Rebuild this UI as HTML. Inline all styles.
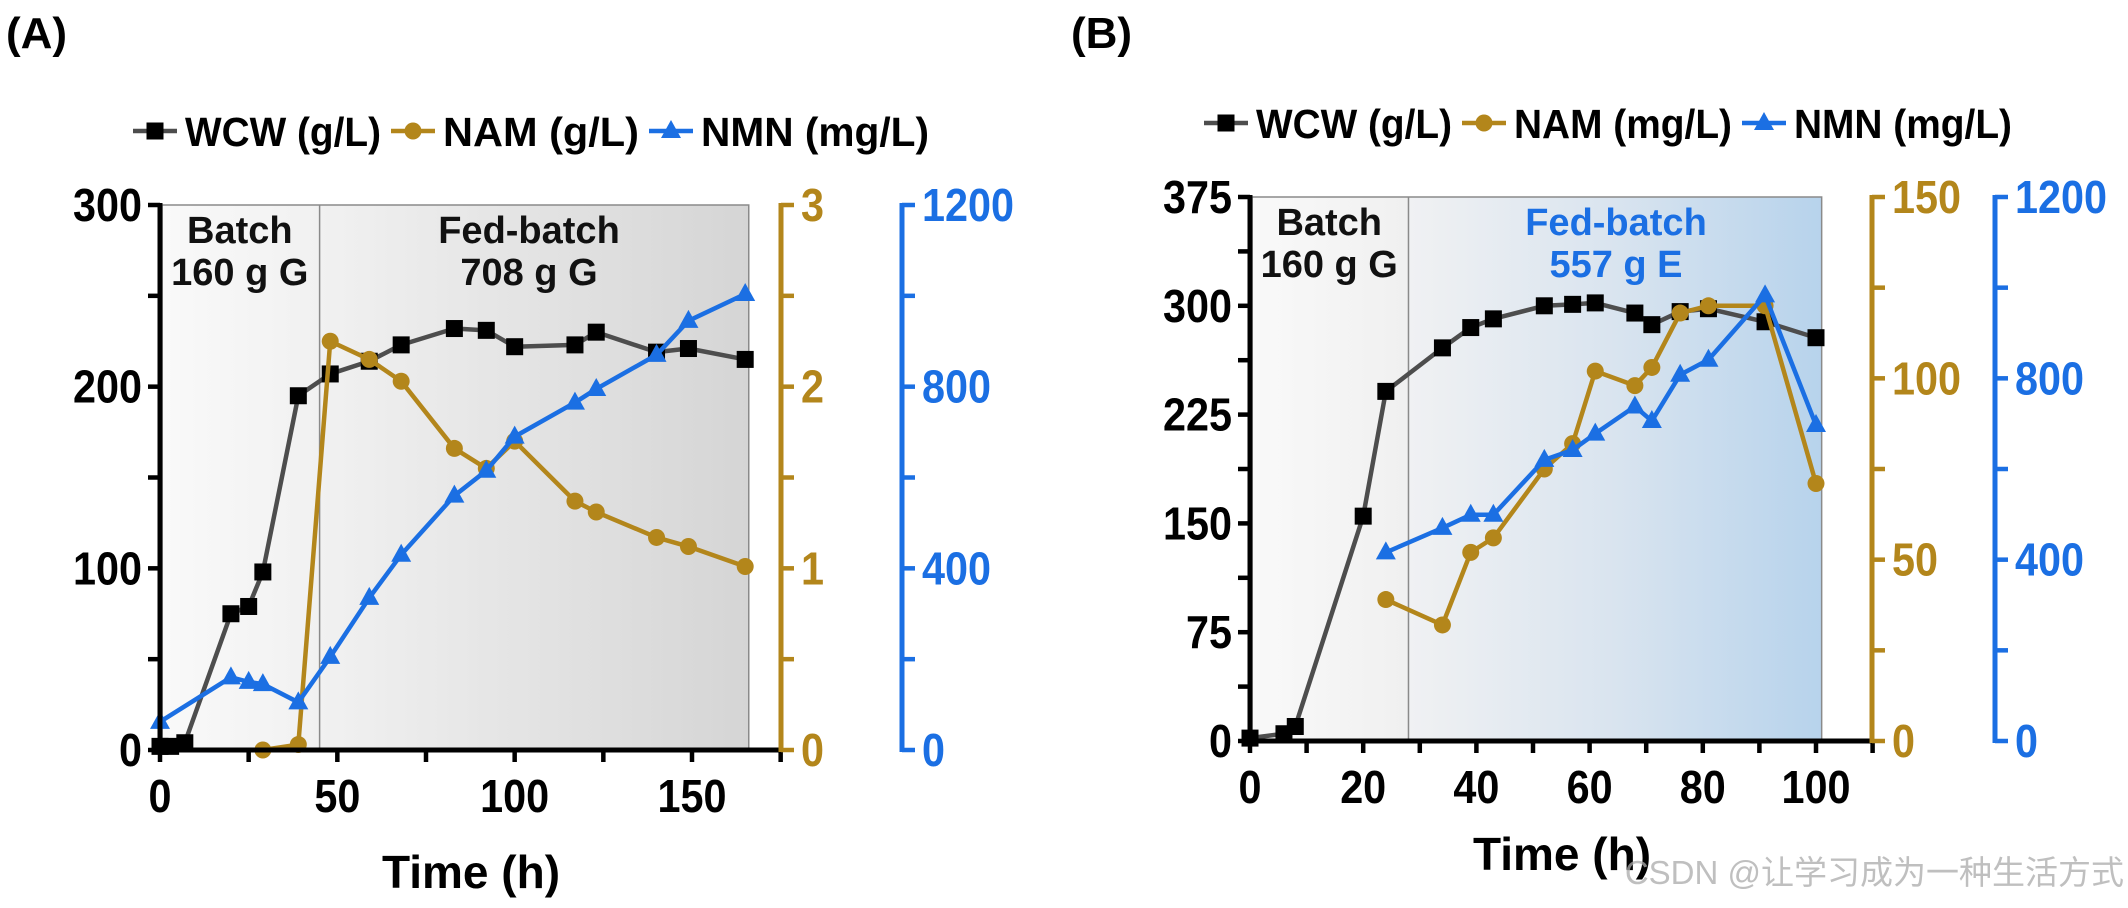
<!DOCTYPE html>
<html><head><meta charset="utf-8"><style>
html,body{margin:0;padding:0;background:#fff;}
svg{display:block;font-family:"Liberation Sans",Arial,sans-serif;font-weight:bold;}
</style></head><body>
<svg id="chart" width="2128" height="908" viewBox="0 0 2128 908" xmlns="http://www.w3.org/2000/svg">
<defs>
<linearGradient id="gA1" x1="0" x2="1"><stop offset="0" stop-color="#f9f9f9"/><stop offset="1" stop-color="#f1f1f1"/></linearGradient>
<linearGradient id="gA2" x1="0" x2="1"><stop offset="0" stop-color="#f1f1f1"/><stop offset="1" stop-color="#d5d5d5"/></linearGradient>
<linearGradient id="gB1" x1="0" x2="1"><stop offset="0" stop-color="#f9f9f9"/><stop offset="1" stop-color="#f0f0f0"/></linearGradient>
<linearGradient id="gB2" x1="0" x2="1"><stop offset="0" stop-color="#f0f1f3"/><stop offset="0.5" stop-color="#d9e4ef"/><stop offset="1" stop-color="#b7d3ec"/></linearGradient>
</defs>
<g id="root"></g>
</svg>
<script>
// Panel A data
const aWcwT = [0,3,7,20,25,29,39,48,59,68,83,92,100,117,123,140,149,165];
const aWcwV = [2,2,4,75,79,98,195,207,214,223,232,231,222,223,230,219,221,215];
const aNamT = [29,39,48,59,68,83,92,100,117,123,140,149,165];
const aNamV = [0,0.03,2.25,2.15,2.03,1.66,1.55,1.7,1.37,1.31,1.17,1.12,1.01];
const aNmnT = [0,20,25,29,39,48,59,68,83,92,100,117,123,140,149,165];
const aNmnV = [62,160,150,145,105,205,335,430,560,615,690,765,795,870,945,1004];
const aXTicks = ["0","50","100","150"];
const aYTicks = ["0","100","200","300"];
const aY2Ticks = ["0","1","2","3"];
const aY3Ticks = ["0","400","800","1200"];
// Panel B data
const bWcwT = [0,6,8,20,24,34,39,43,52,57,61,68,71,76,81,91,100];
const bWcwV = [2,5,10,155,241,271,285,291,300,301,302,295,287,296,298,289,278];
const bNamT = [24,34,39,43,52,57,61,68,71,76,81,91,100];
const bNamV = [39,32,52,56,75,82,102,98,103,118,120,120,71];
const bNmnT = [24,34,39,43,52,57,61,68,71,76,81,91,100];
const bNmnV = [416,470,499,499,620,642,678,738,706,808,841,983,697];
const bXTicks = ["0","20","40","60","80","100"];
const bYTicks = ["0","75","150","225","300","375"];
const bY2Ticks = ["0","50","100","150"];
const bY3Ticks = ["0","400","800","1200"];

const NS="http://www.w3.org/2000/svg";
const root=document.getElementById('root');
const GRAY="#4d4d4d", GOLD="#b3861b", BLUE="#1b6fe3";
function mk(tag,attrs,parent){const e=document.createElementNS(NS,tag);for(const k in attrs)e.setAttribute(k,attrs[k]);(parent||root).appendChild(e);return e;}
function txt(s,attrs,parent){const e=mk('text',attrs,parent);e.textContent=s;return e;}
function tick(s,attrs,parent){const a=Object.assign({'font-size':46},attrs);a.textLength=s.length*23;a.lengthAdjust='spacingAndGlyphs';return txt(s,a,parent);}

function marker(g,kind,x,y,color){
  let m;
  if(kind==='sq'){m=mk('rect',{x:x-8.5,y:y-8.5,width:17,height:17,fill:'#000'},g);}
  else if(kind==='ci'){m=mk('circle',{cx:x,cy:y,r:8.5,fill:color},g);}
  else {m=mk('polygon',{points:`${x},${y-11} ${x-10},${y+7} ${x+10},${y+7}`,fill:color},g);}
  
  
}
function series(g,name,ts,vs,xs,ys,color,kind){
  const sg=mk('g',{},g);
  
  
  const pts=ts.map((t,i)=>xs(t)+','+ys(vs[i])).join(' ');
  mk('polyline',{points:pts,fill:'none',stroke:color,'stroke-width':4.5,'stroke-linejoin':'round'},sg);
  ts.forEach((t,i)=>marker(sg,kind,xs(t),ys(vs[i]),color));
}

function panel(P){
  const g=mk('g',{});
  
  
  const xs=t=>P.x0+(t-P.xmin)/(P.xmax-P.xmin)*(P.x1-P.x0);
  const ys=v=>P.y0-(v/P.ymax)*(P.y0-P.y1);
  const y2=v=>P.y0-(v/P.y2max)*(P.y0-P.y1);
  const y3=v=>P.y0-(v/P.y3max)*(P.y0-P.y1);
  const bx=xs(P.batchEnd), ex=xs(P.shadeEnd);
  let r=mk('rect',{x:P.x0+2,y:P.y1,width:bx-P.x0-2,height:P.y0-P.y1,fill:P.g1},g);
  
  r=mk('rect',{x:bx,y:P.y1,width:ex-bx,height:P.y0-P.y1,fill:P.g2},g);
  
  mk('rect',{x:P.x0+2,y:P.y1,width:ex-P.x0-2,height:P.y0-P.y1,fill:'none',stroke:'#8a8a8a','stroke-width':1.5},g);
  mk('line',{x1:bx,y1:P.y1,x2:bx,y2:P.y0,stroke:'#8a8a8a','stroke-width':1.5},g);
  let t=txt('Batch',{x:(P.x0+bx)/2,y:P.y1+38,'font-size':38,'text-anchor':'middle',fill:'#111'},g);
  
  txt('160 g G',{x:(P.x0+bx)/2,y:P.y1+80,'font-size':38,'text-anchor':'middle',fill:'#111'},g);
  t=txt('Fed-batch',{x:P.fedX,y:P.y1+38,'font-size':38,'text-anchor':'middle',fill:P.fedColor},g);
  
  txt(P.fedText,{x:P.fedX,y:P.y1+80,'font-size':38,'text-anchor':'middle',fill:P.fedColor},g);
  series(g,'wcw-series',P.wT,P.wV,xs,ys,GRAY,'sq');
  series(g,'nam-series',P.nT,P.nV,xs,y2,GOLD,'ci');
  series(g,'nmn-series',P.mT,P.mV,xs,y3,BLUE,'tr');
  const ax=mk('g',{},g);
  mk('line',{x1:P.x0,y1:P.y1-2,x2:P.x0,y2:P.y0+2,stroke:'#000','stroke-width':5},ax);
  const nL=P.yT.length-1;
  for(let i=0;i<=nL*2;i++){const v=P.ymax*i/(nL*2);mk('line',{x1:P.x0-12,y1:ys(v),x2:P.x0,y2:ys(v),stroke:'#000','stroke-width':4.5},ax);}
  P.yT.forEach((s,i)=>{tick(s,{x:P.x0-18,y:ys(P.ymax*i/nL)+16,'text-anchor':'end',fill:'#000'},ax);});
  const xa=mk('g',{},g);
  mk('line',{x1:P.x0-2,y1:P.y0,x2:P.xAxisEnd,y2:P.y0,stroke:'#000','stroke-width':5},xa);
  for(let v=P.xmin;xs(v)<=P.xAxisEnd+1;v+=P.xMinor){mk('line',{x1:xs(v),y1:P.y0,x2:xs(v),y2:P.y0+12,stroke:'#000','stroke-width':4.5},xa);}
  P.xT.forEach(s=>{tick(s,{x:xs(+s),y:P.y0+62,'text-anchor':'middle',fill:'#000'},xa);});
  t=txt('Time (h)',{x:P.titleX,y:P.titleY,'font-size':46,'text-anchor':'middle',fill:'#000'},xa);
  
  const a2=mk('g',{},g);
  mk('line',{x1:P.g2x,y1:P.y1-2,x2:P.g2x,y2:P.y0+2,stroke:GOLD,'stroke-width':5},a2);
  const n2=P.y2T.length-1;
  for(let i=0;i<=n2*2;i++){const v=P.y2max*i/(n2*2);mk('line',{x1:P.g2x,y1:y2(v),x2:P.g2x+13,y2:y2(v),stroke:GOLD,'stroke-width':4.5},a2);}
  P.y2T.forEach((s,i)=>{tick(s,{x:P.g2x+20,y:y2(P.y2max*i/n2)+16,fill:GOLD},a2);});
  const a3=mk('g',{},g);
  mk('line',{x1:P.g3x,y1:P.y1-2,x2:P.g3x,y2:P.y0+2,stroke:BLUE,'stroke-width':5},a3);
  const n3=P.y3T.length-1;
  for(let i=0;i<=n3*2;i++){const v=P.y3max*i/(n3*2);mk('line',{x1:P.g3x,y1:y3(v),x2:P.g3x+13,y2:y3(v),stroke:BLUE,'stroke-width':4.5},a3);}
  P.y3T.forEach((s,i)=>{tick(s,{x:P.g3x+20,y:y3(P.y3max*i/n3)+16,fill:BLUE},a3);});
  const lg=mk('g',{},g);
  let lx=P.legX; const ly=P.legY;
  P.leg.forEach((L,i)=>{
    const e=mk('g',{},lg);
    
    
    const col=[GRAY,GOLD,BLUE][i];
    mk('line',{x1:lx,y1:ly,x2:lx+44,y2:ly,stroke:col,'stroke-width':4.5},e);
    marker(e,['sq','ci','tr'][i],lx+22,ly,col);
    txt(L[0],{x:lx+52,y:ly+15,'font-size':41,fill:'#000',textLength:L[1],lengthAdjust:'spacingAndGlyphs'},e);
    lx+=52+L[1]+10;
  });
  t=txt(P.label,{x:P.labX,y:48,'font-size':44,fill:'#000'},g);
  
}

panel({id:'panel-a',label:'(A)',labX:6,x0:160,x1:692,xmin:0,xmax:150,y0:750,y1:205,ymax:300,y2max:3,y3max:1200,
  batchEnd:45,shadeEnd:166,xAxisEnd:781,xMinor:25,g2x:781,g3x:902,g1:'url(#gA1)',g2:'url(#gA2)',
  fedX:529,fedText:'708 g G',fedColor:'#111',titleX:471,titleY:888,
  wT:aWcwT,wV:aWcwV,nT:aNamT,nV:aNamV,mT:aNmnT,mV:aNmnV,xT:aXTicks,yT:aYTicks,y2T:aY2Ticks,y3T:aY3Ticks,
  legX:133,legY:131,leg:[['WCW (g/L)',196],['NAM (g/L)',196],['NMN (mg/L)',228]]});
panel({id:'panel-b',label:'(B)',labX:1071,x0:1250,x1:1816,xmin:0,xmax:100,y0:741,y1:197,ymax:375,y2max:150,y3max:1200,
  batchEnd:28,shadeEnd:101,xAxisEnd:1872,xMinor:10,g2x:1872,g3x:1995,g1:'url(#gB1)',g2:'url(#gB2)',
  fedX:1616,fedText:'557 g E',fedColor:BLUE,titleX:1562,titleY:870,
  wT:bWcwT,wV:bWcwV,nT:bNamT,nV:bNamV,mT:bNmnT,mV:bNmnV,xT:bXTicks,yT:bYTicks,y2T:bY2Ticks,y3T:bY3Ticks,
  legX:1204,legY:123,leg:[['WCW (g/L)',196],['NAM (mg/L)',218],['NMN (mg/L)',218]]});

const wm=txt('CSDN @让学习成为一种生活方式',{x:2124,y:884,'font-size':33,'text-anchor':'end',fill:'rgba(170,170,170,0.75)','font-weight':'normal','font-family':'"Liberation Sans","Noto Sans CJK SC",sans-serif'});


</script>
</body></html>
